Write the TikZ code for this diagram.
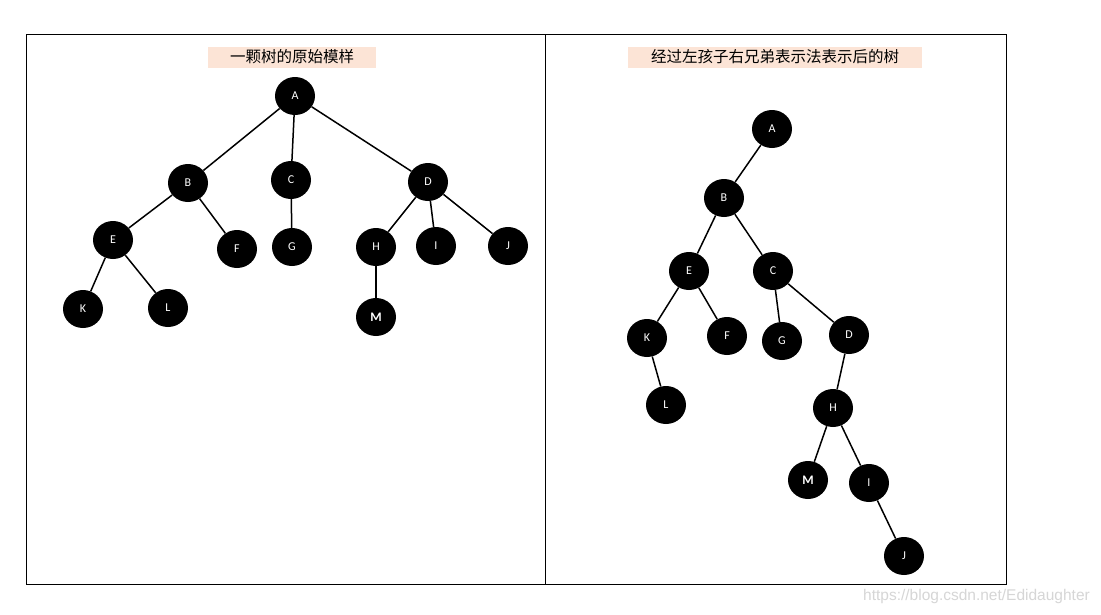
\documentclass[tikz,border=0pt]{standalone}
\usepackage{fontspec}
\setmainfont{Carlito}
\newfontfamily\cjk{Noto Sans CJK SC}
\newfontfamily\wm{Liberation Sans}
\usetikzlibrary{shapes.geometric}
\definecolor{titlebg}{HTML}{FCE4D6}
\begin{document}
\begin{tikzpicture}[x=1pt,y=-1pt,
  tn/.style={ellipse,fill=black,minimum width=40pt,minimum height=38pt,inner sep=0pt,text=white,font=\fontsize{12}{14}\selectfont},
  edge/.style={line width=1.5pt,black},
  frame/.style={draw=black,line width=0.8pt},
  ttl/.style={fill=titlebg,inner sep=0pt,font=\cjk\fontsize{15.5}{17}\selectfont,text=black}]
\useasboundingbox (0,0) rectangle (1101,614);
\fill[white] (0,0) rectangle (1101,614);
\draw[frame] (26,34) rectangle (545,584);
\draw[frame] (545,34) rectangle (1006,584);
\node[ttl,minimum width=168pt,minimum height=21pt] (t1) at (292,57) {一颗树的原始模样};
\node[ttl,minimum width=294pt,minimum height=21pt] (t2) at (775,57) {经过左孩子右兄弟表示法表示后的树};
% left tree
\node[tn] (lA) at (295,96) {A};
\node[tn] (lB) at (188,183) {B};
\node[tn] (lC) at (291,180) {C};
\node[tn] (lD) at (428,182) {D};
\node[tn] (lE) at (113,240) {E};
\node[tn] (lF) at (237,249) {F};
\node[tn] (lG) at (292,247) {G};
\node[tn] (lH) at (376,247) {H};
\node[tn] (lI) at (436,246) {I};
\node[tn] (lJ) at (508,246) {J};
\node[tn] (lK) at (83,309) {K};
\node[tn] (lL) at (168,308) {L};
\node[tn,font=\bfseries\fontsize{13}{14}\selectfont] (lM) at (376,317) {M};
\foreach \a/\b in {A/B,A/C,A/D,B/E,B/F,C/G,D/H,D/I,D/J,E/K,E/L,H/M}
  \draw[edge] (l\a) -- (l\b);
% right tree
\node[tn] (rA) at (772,129) {A};
\node[tn] (rB) at (724,198) {B};
\node[tn] (rE) at (689,271) {E};
\node[tn] (rC) at (773,271) {C};
\node[tn] (rK) at (647,338) {K};
\node[tn] (rF) at (727,336) {F};
\node[tn] (rG) at (782,341) {G};
\node[tn] (rD) at (849,335) {D};
\node[tn] (rL) at (666,405) {L};
\node[tn] (rH) at (833,408) {H};
\node[tn,font=\bfseries\fontsize{13}{14}\selectfont] (rM) at (808,480) {M};
\node[tn] (rI) at (869,483) {I};
\node[tn] (rJ) at (904,556) {J};
\foreach \a/\b in {A/B,B/E,B/C,E/K,E/F,C/G,C/D,K/L,D/H,H/M,H/I,I/J}
  \draw[edge] (r\a) -- (r\b);
\node[font=\wm\fontsize{15.5}{17}\selectfont,text=black!16,anchor=east,inner sep=0pt] (wm) at (1090,596) {https://blog.csdn.net/Edidaughter};
\end{tikzpicture}
\end{document}
